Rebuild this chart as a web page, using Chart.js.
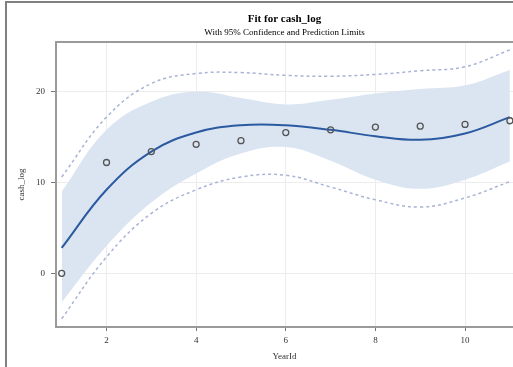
<!DOCTYPE html>
<html>
<head>
<meta charset="utf-8">
<script src="https://cdn.jsdelivr.net/npm/chart.js@4"></script>
<style>
  html, body { margin: 0; padding: 0; background: #fff; overflow: hidden; }
  #wrap { width: 513px; height: 367px; position: relative; }
</style>
</head>
<body>
<div id="wrap"><canvas id="fitChart"></canvas></div>
<script>
// data
const yearId = [1, 2, 3, 4, 5, 6, 7, 8, 9, 10, 11];
const cashLog = [0, 12.2, 13.4, 14.2, 14.6, 15.5, 15.8, 16.1, 16.2, 16.4, 16.8];
const fitLine = [2.8, 9.2, 13.4, 15.5, 16.3, 16.3, 15.8, 15.1, 14.7, 15.4, 17.2];
const clUpper = [9.0, 15.8, 18.9, 20.0, 19.3, 18.6, 19.1, 19.8, 20.3, 20.7, 22.4];
const clLower = [-3.2, 3.0, 7.8, 11.0, 13.2, 13.9, 12.4, 10.3, 9.3, 10.3, 12.3];
const plUpper = [10.6, 17.2, 20.9, 22.0, 22.1, 21.8, 21.7, 21.9, 22.3, 22.75, 24.6];
const plLower = [-5.0, 1.8, 6.6, 9.2, 10.6, 10.8, 9.5, 8.1, 7.3, 8.3, 10.1];
const xTicks = [2, 4, 6, 8, 10];
const yTicks = [0, 10, 20];

const toPoints = (ys) => yearId.map((x, i) => ({ x: x, y: ys[i] }));

const serif = "'Liberation Serif', 'DejaVu Serif', serif";

// grey frame round the picture and top edge of the plot box
const framePlugin = {
  id: 'frame',
  afterDraw(chart) {
    const { ctx, chartArea } = chart;
    ctx.save();
    ctx.fillStyle = '#808080';
    ctx.fillRect(5, 1, 508, 2);
    ctx.fillRect(5, 1, 2, 366);
    ctx.strokeStyle = '#9a9a9a';
    ctx.lineWidth = 2;
    ctx.beginPath();
    ctx.moveTo(chartArea.left, chartArea.top);
    ctx.lineTo(chartArea.right, chartArea.top);
    ctx.stroke();
    ctx.restore();
  },
};

const ctx = document.getElementById('fitChart').getContext('2d');
const fitChart = new Chart(ctx, {
  type: 'line',
  data: {
    datasets: [
      {
        label: 'cash_log',
        data: toPoints(cashLog),
        showLine: false,
        pointRadius: 3,
        pointBorderWidth: 1.3,
        pointBorderColor: '#555',
        pointBackgroundColor: 'rgba(0,0,0,0)',
      },
      {
        label: 'Fit',
        data: toPoints(fitLine),
        borderColor: '#2c5aa0',
        borderWidth: 2,
        pointRadius: 0,
        tension: 0.4,
      },
      {
        label: '95% Prediction Limits',
        data: toPoints(plUpper),
        borderColor: '#a8b3d6',
        borderWidth: 1.5,
        borderDash: [3, 3],
        pointRadius: 0,
        tension: 0.4,
      },
      {
        label: 'plLower',
        data: toPoints(plLower),
        borderColor: '#a8b3d6',
        borderWidth: 1.5,
        borderDash: [3, 3],
        pointRadius: 0,
        tension: 0.4,
      },
      {
        label: '95% Confidence Limits',
        data: toPoints(clUpper),
        borderWidth: 0,
        borderColor: 'rgba(0,0,0,0)',
        backgroundColor: '#dbe5f2',
        fill: '+1',
        pointRadius: 0,
        tension: 0.4,
      },
      {
        label: 'clLower',
        data: toPoints(clLower),
        borderWidth: 0,
        borderColor: 'rgba(0,0,0,0)',
        pointRadius: 0,
        tension: 0.4,
      },
    ],
  },
  options: {
    responsive: true,
    maintainAspectRatio: false,
    animation: false,
    layout: { padding: 0, autoPadding: false },
    plugins: {
      legend: { display: false },
      tooltip: { enabled: false },
      title: {
        display: true,
        text: 'Fit for cash_log',
        fullSize: false,
        color: '#000',
        font: { family: serif, size: 11, weight: 'bold' },
        padding: { top: 13, bottom: 1.5 },
      },
      subtitle: {
        display: true,
        text: 'With 95% Confidence and Prediction Limits',
        fullSize: false,
        color: '#000',
        font: { family: serif, size: 9 },
        padding: { top: 0, bottom: 3.5 },
      },
    },
    scales: {
      x: {
        type: 'linear',
        min: 0.873,
        max: 11.07,
        afterFit: (scale) => {
          scale.height = 40;
          scale.paddingLeft = 0;
          scale.paddingRight = 0;
        },
        afterBuildTicks: (scale) => {
          scale.ticks = xTicks.map((v) => ({ value: v }));
        },
        ticks: {
          color: '#333',
          font: { family: serif, size: 9 },
          padding: 4,
        },
        grid: {
          color: '#ececec',
          tickColor: '#777',
          tickLength: 4,
        },
        border: { color: '#9a9a9a', width: 2 },
        title: {
          display: true,
          text: 'YearId',
          color: '#333',
          font: { family: serif, size: 9 },
          padding: { top: 0, bottom: 4.6 },
        },
      },
      y: {
        min: -5.91,
        max: 25.47,
        afterFit: (scale) => {
          scale.width = 56;
          scale.paddingTop = 0;
          scale.paddingBottom = 0;
        },
        afterBuildTicks: (scale) => {
          scale.ticks = yTicks.map((v) => ({ value: v }));
        },
        ticks: {
          color: '#333',
          font: { family: serif, size: 9 },
          padding: 6,
        },
        grid: {
          color: '#ececec',
          tickColor: '#777',
          tickLength: 5,
        },
        border: { color: '#9a9a9a', width: 2 },
        title: {
          display: true,
          text: 'cash_log',
          color: '#333',
          font: { family: serif, size: 9 },
          padding: { top: 16.6, bottom: 0 },
        },
      },
    },
  },
  plugins: [framePlugin],
});
</script>
</body>
</html>
